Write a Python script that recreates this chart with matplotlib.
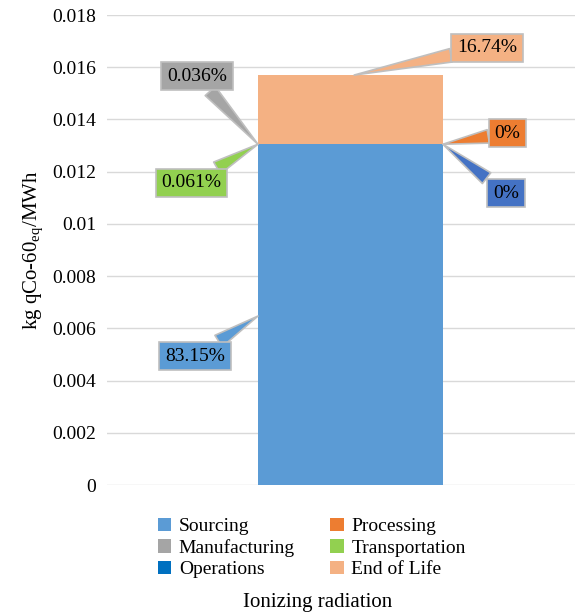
import matplotlib
matplotlib.use("Agg")
import matplotlib.pyplot as plt

plt.rcParams['font.family'] = ['Liberation Serif', 'DejaVu Serif']
plt.rcParams['mathtext.fontset'] = 'custom'
plt.rcParams['mathtext.rm'] = 'Liberation Serif'

stages = ["Sourcing", "Processing", "Manufacturing", "Transportation", "Operations", "End of Life"]
values = [0.01305, 0.0, 0.0000057, 0.0000096, 0.0, 0.00263]
colors = ["#5B9BD5", "#ED7D31", "#A5A5A5", "#92D050", "#0070C0", "#F4B183"]
labels = ["83.15%", "0%", "0.036%", "0.061%", "0%", "16.74%"]
box_colors = ["#5B9BD5", "#ED7D31", "#A5A5A5", "#92D050", "#4472C4", "#F4B183"]
label_pos = [(-0.84, 0.00494), (0.85, 0.01348), (-0.83, 0.01566), (-0.86, 0.01157), (0.84, 0.01118), (0.74, 0.01674)]
targets = [(-0.5, 0.00647), (0.5, 0.01305), (-0.5, 0.01305), (-0.5, 0.01305), (0.5, 0.01305), (0.02, 0.0157)]

fig = plt.figure(figsize=(5.82, 6.16), dpi=100)
ax = fig.add_axes([107/582, 1-485/616, 468/582, 470/616])

bottom = 0
bars = []
for s, v, c in zip(stages, values, colors):
    bars.append(ax.bar(0, v, width=1, bottom=bottom, color=c, label=s, zorder=2))
    bottom += v

for lab, bc, p, t in zip(labels, box_colors, label_pos, targets):
    ax.annotate(lab, xy=t, xytext=p, ha='center', va='center', fontsize=14,
                bbox=dict(boxstyle='square,pad=0.3', fc=bc, ec='#BFBFBF', lw=1.2),
                arrowprops=dict(arrowstyle='wedge,tail_width=0.7,shrink_factor=0.5',
                                fc=bc, ec='#BFBFBF', lw=1.2, shrinkA=0, shrinkB=0), zorder=5)

ax.set_xlim(-1.316, 1.214)
ax.set_ylim(0, 0.018)
ax.set_yticks([i * 0.002 for i in range(10)])
ax.set_yticklabels(["0"] + ["%g" % (i * 0.002) for i in range(1, 10)], fontsize=14)
ax.set_xticks([])
ax.grid(axis='y', color='#D9D9D9', lw=1, zorder=0)
for sp in ax.spines.values():
    sp.set_visible(False)
ax.tick_params(axis='y', length=0, pad=8)
ax.set_ylabel(r"kg qCo-60$_{\mathrm{eq}}$/MWh", fontsize=15)

order = [0, 2, 4, 1, 3, 5]
fig.legend([bars[i] for i in order], [stages[i] for i in order],
           loc='upper left', bbox_to_anchor=(140/582, 1-500/616), ncol=2, frameon=False,
           fontsize=14, handlelength=0.7, handleheight=0.7, columnspacing=1.8,
           labelspacing=0.2, handletextpad=0.4)
fig.text(0.545, 1-602/616, "Ionizing radiation", ha='center', va='center', fontsize=15)

fig.savefig("out.png", dpi=100)
